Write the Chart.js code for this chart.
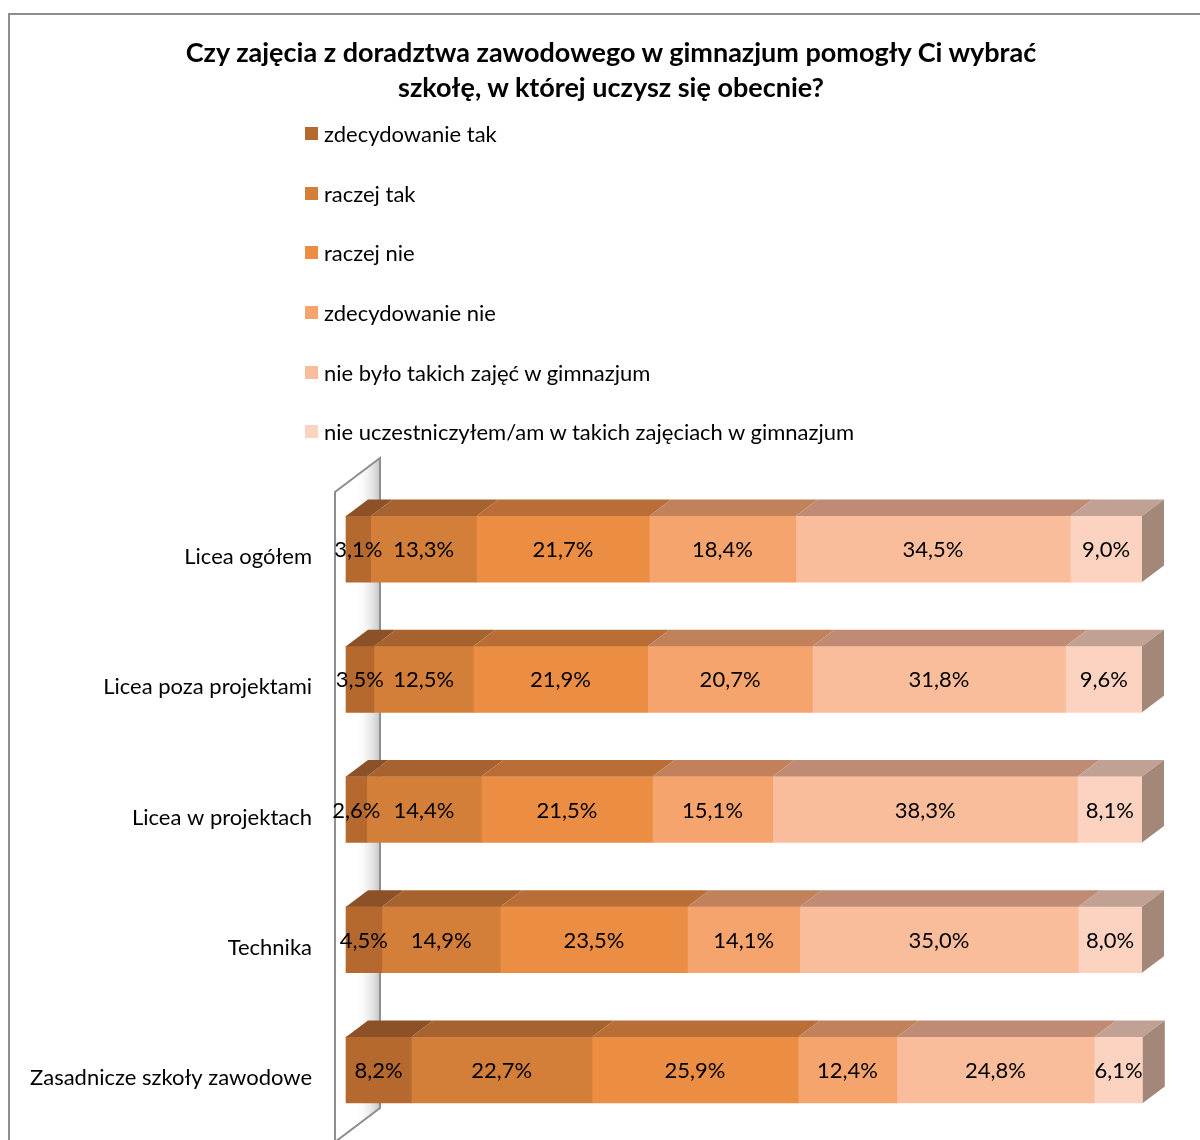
<!DOCTYPE html>
<html lang="pl">
<head>
<meta charset="utf-8">
<title>Doradztwo zawodowe w gimnazjum</title>
<script src="https://cdn.jsdelivr.net/npm/chart.js@4.4.1/dist/chart.umd.min.js"></script>
<style>
    body { margin: 0; background: #fff; font-family: Lato, 'Open Sans', sans-serif; }
    #wrap { position: relative; width: 1200px; height: 1140px; overflow: hidden; }
    #frame { position: absolute; left: 8px; top: 13px; width: 1400px; height: 1400px;
             border-left: 2px solid #8e8e8e; border-top: 2px solid #8e8e8e; }
    #chart { position: absolute; left: 0; top: 0; }
    #title { position: absolute; left: 0; top: 34px; width: 1222px; text-align: center;
             font-weight: bold; font-size: 27px; line-height: 35px; color: #000; }
    #legend { position: absolute; left: 305px; top: 104px; }
    .legend-item { height: 59.6px; display: flex; align-items: center; font-size: 22px; color: #000; }
    .legend-box { width: 13px; height: 13px; margin-right: 6px; }
</style>
</head>
<body>
<div id="wrap">
    <div id="frame"></div>
    <canvas id="chart" width="1200" height="1140"></canvas>
    <div id="title">Czy zajęcia z doradztwa zawodowego w gimnazjum pomogły Ci wybrać<br>szkołę, w której uczysz się obecnie?</div>
    <div id="legend"></div>
</div>
<script>
// Data (percent of answers)
const categories = ['Licea ogółem', 'Licea poza projektami', 'Licea w projektach', 'Technika', 'Zasadnicze szkoły zawodowe'];
const seriesNames = [
    'zdecydowanie tak',
    'raczej tak',
    'raczej nie',
    'zdecydowanie nie',
    'nie było takich zajęć w gimnazjum',
    'nie uczestniczyłem/am w takich zajęciach w gimnazjum'
];
const zdecydowanieTak   = [3.1, 3.5, 2.6, 4.5, 8.2];
const raczejTak         = [13.3, 12.5, 14.4, 14.9, 22.7];
const raczejNie         = [21.7, 21.9, 21.5, 23.5, 25.9];
const zdecydowanieNie   = [18.4, 20.7, 15.1, 14.1, 12.4];
const nieByloZajec      = [34.5, 31.8, 38.3, 35.0, 24.8];
const nieUczestniczylem = [9.0, 9.6, 8.1, 8.0, 6.1];

const seriesValues = [zdecydowanieTak, raczejTak, raczejNie, zdecydowanieNie, nieByloZajec, nieUczestniczylem];

// Colours: front faces, top faces, right side
const FRONT_COLORS = ['#B5692F', '#D37F3A', '#EB8D42', '#F6A46E', '#F9BD9B', '#FCD3C0'];
const TOP_COLORS   = ['#8C5127', '#A6632F', '#B86E36', '#C1815A', '#BF8B74', '#C0A194'];
const SIDE_COLOR   = '#A3887A';

const DEPTH_X = 22;
const DEPTH_Y = -16.5;
const FONT = 'Lato, "Open Sans", sans-serif';

function fmt(v) {
    return v.toFixed(1).replace('.', ',') + '%';
}

// HTML legend, one entry per line
const legendEl = document.getElementById('legend');
seriesNames.forEach((name, i) => {
    legendEl.innerHTML += `
        <div class="legend-item">
            <span class="legend-box" style="background:${FRONT_COLORS[i]}"></span>
            <span>${name}</span>
        </div>`;
});

// Draws the side wall, the bar tops/sides and the value labels
const bar3d = {
    id: 'bar3d',
    beforeDatasetsDraw(chart) {
        const ctx = chart.ctx;
        const area = chart.chartArea;
        const x0 = chart.scales.x.getPixelForValue(0);
        const fx = x0 - 11, bx = x0 + 34;
        const fTop = area.top + 8, bTop = area.top - 26;
        const bBottom = area.bottom - 27, fBottom = bBottom + 34;

        ctx.save();
        ctx.beginPath();
        ctx.moveTo(fx, fTop);
        ctx.lineTo(bx, bTop);
        ctx.lineTo(bx, bBottom);
        ctx.lineTo(fx, fBottom);
        ctx.closePath();
        const grad = ctx.createLinearGradient(fx, 0, bx, 0);
        grad.addColorStop(0, 'rgba(255,255,255,0)');
        grad.addColorStop(0.45, 'rgba(255,255,255,0)');
        grad.addColorStop(1, 'rgba(140,140,140,0.5)');
        ctx.fillStyle = grad;
        ctx.fill();

        ctx.strokeStyle = '#8e8e8e';
        ctx.lineWidth = 2;
        ctx.beginPath();
        ctx.moveTo(fx, chart.height + 5);
        ctx.lineTo(fx, fTop);
        ctx.lineTo(bx, bTop);
        ctx.lineTo(bx, bBottom);
        ctx.lineTo(fx, fBottom);
        ctx.stroke();
        ctx.restore();
    },
    afterDatasetsDraw(chart) {
        const ctx = chart.ctx;
        const last = chart.data.datasets.length - 1;
        ctx.save();

        chart.data.datasets.forEach((ds, i) => {
            const meta = chart.getDatasetMeta(i);
            meta.data.forEach(bar => {
                const p = bar.getProps(['x', 'y', 'base', 'height'], true);
                const top = p.y - p.height / 2;
                const bottom = p.y + p.height / 2;

                ctx.fillStyle = TOP_COLORS[i];
                ctx.beginPath();
                ctx.moveTo(p.base, top);
                ctx.lineTo(p.x, top);
                ctx.lineTo(p.x + DEPTH_X, top + DEPTH_Y);
                ctx.lineTo(p.base + DEPTH_X, top + DEPTH_Y);
                ctx.closePath();
                ctx.fill();

                if (i === last) {
                    ctx.fillStyle = SIDE_COLOR;
                    ctx.beginPath();
                    ctx.moveTo(p.x, top);
                    ctx.lineTo(p.x + DEPTH_X, top + DEPTH_Y);
                    ctx.lineTo(p.x + DEPTH_X, bottom + DEPTH_Y);
                    ctx.lineTo(p.x, bottom);
                    ctx.closePath();
                    ctx.fill();
                }
            });
        });

        // value labels
        ctx.font = '22px ' + FONT;
        ctx.fillStyle = '#000';
        ctx.textAlign = 'center';
        ctx.textBaseline = 'middle';
        chart.data.datasets.forEach((ds, i) => {
            const meta = chart.getDatasetMeta(i);
            meta.data.forEach((bar, j) => {
                const p = bar.getProps(['x', 'y', 'base'], true);
                ctx.fillText(fmt(ds.data[j]), (p.base + p.x) / 2, p.y + 1);
            });
        });
        ctx.restore();
    }
};

new Chart(document.getElementById('chart'), {
    type: 'bar',
    data: {
        labels: categories,
        datasets: seriesValues.map((values, i) => ({
            label: seriesNames[i],
            data: values,
            backgroundColor: FRONT_COLORS[i],
            borderWidth: 0,
            barThickness: 66,
            clip: false
        }))
    },
    options: {
        indexAxis: 'y',
        responsive: false,
        animation: false,
        devicePixelRatio: 1,
        layout: {
            padding: { left: 0, right: 58, top: 484, bottom: 5 }
        },
        plugins: {
            legend: { display: false },
            title: { display: false },
            tooltip: { enabled: false }
        },
        scales: {
            x: {
                stacked: true,
                min: 0,
                max: 100,
                display: false
            },
            y: {
                stacked: true,
                grid: { display: false, drawTicks: false },
                border: { display: false },
                ticks: {
                    color: '#000',
                    font: { family: FONT, size: 22 },
                    padding: 34,
                    labelOffset: 8
                },
                afterFit: scale => {
                    scale.width = 346;
                    scale.paddingTop = 0;
                    scale.paddingBottom = 0;
                }
            }
        }
    },
    plugins: [bar3d]
});
</script>
</body>
</html>
